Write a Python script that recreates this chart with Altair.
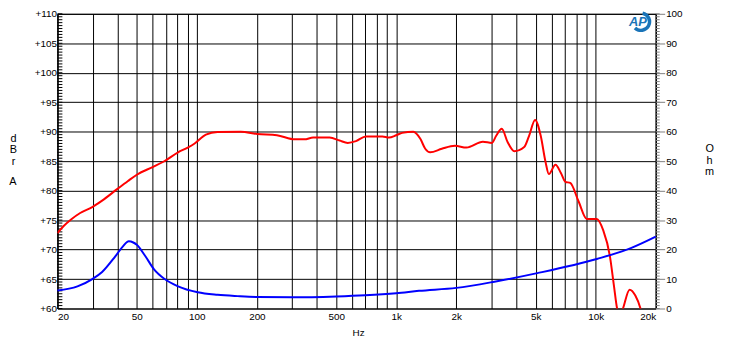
import altair as alt
import pandas as pd

# ---- data ----
spl_freq = [20, 21.5, 23.4, 26, 29.9, 33.5, 40, 45, 50, 60, 68, 80.5, 90, 97.5, 111, 127, 166,
            201, 252, 311, 346, 383, 463, 520, 571, 628, 704, 853, 919, 1000, 1071, 1218, 1320,
            1397, 1480, 1692, 1968, 2249, 2719, 3014, 3170, 3380, 3620, 3904, 4380, 4634, 4966,
            5300, 5600, 5823, 6285, 6690, 7045, 7453, 8200, 9020, 10120, 10900, 11780, 12340,
            12800, 13200, 13700, 14790, 15800, 16770, 17200]
spl_db = [72.8, 74.0, 75.1, 76.2, 77.2, 78.3, 80.3, 81.6, 82.7, 84.0, 84.9, 86.5, 87.3, 88.0, 89.5,
          89.95, 90.0, 89.6, 89.4, 88.7, 88.7, 89.0, 89.0, 88.5, 88.1, 88.4, 89.2, 89.2, 89.0, 89.4,
          89.8, 90.0, 88.8, 87.1, 86.5, 87.1, 87.6, 87.3, 88.3, 88.1, 89.3, 90.5, 88.2, 86.7, 87.4,
          89.3, 92.0, 89.3, 84.9, 82.8, 84.4, 83.0, 81.5, 81.3, 78.2, 75.2, 75.2, 73.3, 68.9, 63.9,
          60.0, 58.5, 60.0, 63.2, 62.2, 60.0, 58.5]

imp_freq = [20, 25.2, 29.9, 33.5, 39, 42.5, 45.6, 48, 50, 55, 61, 69, 80.5, 101, 127, 160, 201,
            300, 500, 700, 1000, 1300, 2000, 3106, 5095, 10120, 15000, 20000]
imp_ohm = [6.1, 7.5, 10.0, 12.4, 17.7, 21.0, 22.8, 22.4, 21.6, 17.9, 13.3, 10.0, 7.5, 5.5, 4.65,
           4.2, 3.9, 3.8, 4.1, 4.5, 5.2, 6.0, 7.0, 9.1, 12.0, 16.8, 20.5, 24.4]

x_grid = [20, 30, 40, 50, 60, 70, 80, 90, 100, 200, 300, 400, 500, 600, 700, 800, 900,
          1000, 2000, 3000, 4000, 5000, 6000, 7000, 8000, 9000, 10000, 20000]
x_labels = [20, 50, 100, 200, 500, 1000, 2000, 5000, 10000, 20000]
db_ticks = [60, 65, 70, 75, 80, 85, 90, 95, 100, 105, 110]
ohm_ticks = [0, 10, 20, 30, 40, 50, 60, 70, 80, 90, 100]
db_minor = [60 + 0.5 * i for i in range(101)]
ohm_minor = list(range(0, 101))

W, H = 605, 298
FONT = "Liberation Sans"

xscale = alt.Scale(type="log", domain=[20, 20000], nice=False)
dbscale = alt.Scale(domain=[60, 110], nice=False, zero=False)
ohmscale = alt.Scale(domain=[0, 100], nice=False)

lab_arr = "[" + ",".join(str(v) for v in x_labels) + "]"
x_axis = alt.Axis(
    values=x_grid, grid=True, gridColor="black", gridOpacity=1, gridWidth=1,
    ticks=False, domain=False, labelFlush=True, labelPadding=3,
    labelFont=FONT, labelFontSize=10, labelColor="black",
    labelExpr=f"indexof({lab_arr}, datum.value) >= 0 ? (datum.value >= 1000 ? (datum.value/1000) + 'k' : '' + datum.value) : ''",
    title="Hz", titleFont=FONT, titleFontSize=10, titleFontWeight="normal",
    titleX=304, titleY=27, titleBaseline="alphabetic", titleAlign="center",
)

red = alt.Chart(pd.DataFrame({"f": spl_freq, "db": spl_db})).mark_line(
    color="#ff0000", strokeWidth=2, clip=True, interpolate="monotone"
).encode(
    x=alt.X("f:Q", scale=xscale, axis=x_axis),
    y=alt.Y("db:Q", scale=dbscale, axis=alt.Axis(
        orient="left", values=db_ticks, grid=True, gridColor="black", gridOpacity=1,
        ticks=False, domain=True, domainColor="black", labelPadding=1,
        labelFont=FONT, labelFontSize=10, labelColor="black",
        labelExpr="'+' + datum.value",
        title=["d", "B", "r"], titleAngle=0, titleFont=FONT, titleFontSize=11,
        titleFontWeight="normal", titleLineHeight=11.5, titleAlign="center",
        titleBaseline="top", titleX=-45, titleY=120,
    )),
)

blue = alt.Chart(pd.DataFrame({"f": imp_freq, "ohm": imp_ohm})).mark_line(
    color="#0000ff", strokeWidth=2, interpolate="monotone"
).encode(
    x=alt.X("f:Q", scale=xscale, axis=x_axis),
    y=alt.Y("ohm:Q", scale=ohmscale, axis=alt.Axis(
        orient="right", values=ohm_ticks, grid=False, ticks=True, tickSize=9,
        tickColor="#808080", domain=True, domainColor="black", labelPadding=1,
        labelFont=FONT, labelFontSize=10, labelColor="black",
        title=["O", "h", "m"], titleAngle=0, titleFont=FONT, titleFontSize=11,
        titleFontWeight="normal", titleLineHeight=12, titleAlign="center",
        titleBaseline="top", titleX=54, titleY=130,
    )),
)

left_minor = alt.Chart(pd.DataFrame({"v": db_minor})).mark_rule(
    color="black", strokeWidth=1
).encode(
    y=alt.Y("v:Q", scale=dbscale, axis=None),
    x=alt.value(0), x2=alt.value(5),
)

right_minor = alt.Chart(pd.DataFrame({"v": ohm_minor})).mark_rule(
    color="#808080", strokeWidth=1
).encode(
    y=alt.Y("v:Q", scale=ohmscale, axis=None),
    x=alt.value(W), x2=alt.value(W + 4),
)

unit_df = pd.DataFrame({"t": ["A"]})
unit_a = alt.Chart(unit_df).mark_text(
    color="black", font=FONT, fontSize=11, align="center", baseline="middle"
).encode(text="t:N", x=alt.value(-45), y=alt.value(170))

logo_df = pd.DataFrame({"t": ["AP"]})
logo_arc = alt.Chart(logo_df).mark_arc(
    color="#1a74b8", radius=10.5, radius2=7, theta=0.2, theta2=3.9
).encode(x=alt.value(590), y=alt.value(8))
logo_txt = alt.Chart(logo_df).mark_text(
    color="#1a74b8", font=FONT, fontSize=13, fontWeight="bold", fontStyle="italic",
    align="center", baseline="middle"
).encode(text="t:N", x=alt.value(587), y=alt.value(8))

chart = alt.layer(left_minor, right_minor, red, blue, unit_a, logo_arc, logo_txt).resolve_scale(
    y="independent"
).properties(
    width=W, height=H,
    autosize=alt.AutoSizeParams(type="none"),
    padding={"left": 50, "top": 4, "right": 67, "bottom": 33},
    background="white",
).configure_view(stroke="black", strokeWidth=1)

chart.save("out.html", embed_options={"renderer": "svg", "actions": False})
